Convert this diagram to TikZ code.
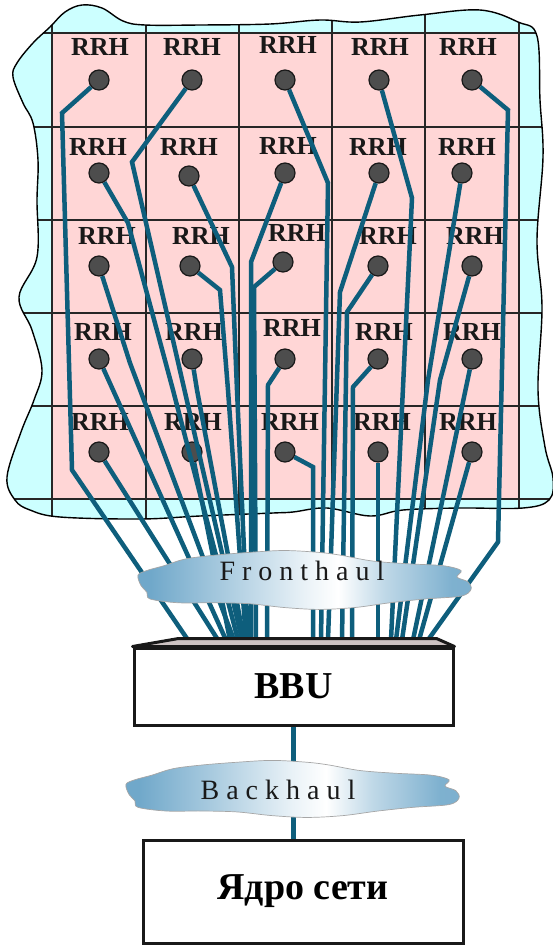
\documentclass[tikz,border=0pt]{standalone}
\usepackage{fontspec}
\setmainfont{Liberation Serif}
\newfontfamily\spacedfont[LetterSpace=25]{Liberation Serif}
\usetikzlibrary{calc}

\definecolor{fibreblue}{RGB}{14,94,124}
\definecolor{cellpink}{RGB}{255,214,214}
\definecolor{seacyan}{RGB}{204,255,255}
\definecolor{dotgray}{RGB}{77,77,77}
\definecolor{cloudblue}{RGB}{112,168,202}
\definecolor{lidgray}{RGB}{205,195,195}
% the path's box takes the 25bp..75bp part of the sweep
\pgfdeclarehorizontalshading{cloudsweep}{100bp}{color(0bp)=(cloudblue); color(27bp)=(cloudblue);
  color(38bp)=(white!40!cloudblue); color(50bp)=(white!85!cloudblue); color(55bp)=(white);
  color(62bp)=(white!55!cloudblue); color(72bp)=(white!10!cloudblue); color(100bp)=(cloudblue)}

\tikzset{
  rrhtext/.style={font=\fontsize{26}{26}\selectfont\bfseries, text=black!90, inner sep=0pt},
  rrhdot/.style={circle, draw=black!90, line width=1.2pt, fill=dotgray, minimum size=20pt, inner sep=0pt},
  fibre/.style={draw=fibreblue, line width=4.5pt},
  gridline/.style={draw=black!85, line width=1.6pt},
  cloudtext/.style={inner sep=0pt, font=\spacedfont\fontsize{28}{28}\selectfont, text=black!90},
  unitbox/.style={draw=black!90, line width=3pt, fill=white, inner sep=0pt, font=\fontsize{38}{38}\selectfont\bfseries},
  % flat cloud, about 335 x 62
  cloudbank/.pic={
    \shade[shading=cloudsweep, draw=gray!70, line width=0.7pt] plot [smooth cycle, tension=0.55] coordinates {
      (-166,-4)(-157,-9)(-140,-14)(-119,-21)(-90,-25)(-55,-28)(-20,-30)(15,-28)(37,-25)(68,-19)
      (104,-16)(139,-14)(157,-9)(153,-2)(164,3)(167,11)(157,18)(121,21)(86,25)(51,30)(15,32)
      (-20,30)(-55,26)(-90,25)(-126,25)(-154,21)(-157,14)(-163,7)
    };
  },
}

\begin{document}
\begin{tikzpicture}[x=1pt,y=-1pt]
\useasboundingbox (0,0) rectangle (553,946);
% =============================================
% - area with the cell grid.
\path[save path=\seapath] plot [smooth cycle, tension=0.6] coordinates {
(50,27)(65,12)(82,5)(102,8)(123,21)(145,25)(200,25)(270,24)(320,20)(360,22)(420,15)(480,10)(518,22)(537,36)
(540,100)(543,157)(537,240)(542,307)(538,390)(545,447)(553,478)(549,500)(523,508)(460,508)(403,510)(370,516)
(327,508)(293,512)(273,513)(200,516)(140,519)(60,517)(30,510)(15,500)(7,477)(21,432)(34,400)(42,370)
(32,330)(19,297)(37,257)(37,200)(38,160)(33,123)(23,103)(13,77)(17,63)(33,43)
};
\fill[seacyan, use path=\seapath];
\fill[cellpink] (52,33) rectangle (519,499);
\begin{scope}
\clip[use path=\seapath];
\draw[gridline] (52,0) -- (52,530) (146,0) -- (146,530) (239,0) -- (239,530)
                (332,0) -- (332,530) (425,0) -- (425,530) (519,0) -- (519,530);
\draw[gridline] (0,33) -- (553,33) (0,127) -- (553,127) (0,220) -- (553,220)
                (0,313) -- (553,313) (0,406) -- (553,406) (0,499) -- (553,499);
\end{scope}
\draw[black, line width=1.4pt, use path=\seapath];
%
% - RRH labels and antennas, row by row.
\node[rrhtext] (l11) at (100,47) {RRH};  \node[rrhdot] (d11) at (99,80) {};
\node[rrhtext] (l12) at (192,47) {RRH};  \node[rrhdot] (d12) at (192,80) {};
\node[rrhtext] (l13) at (288,45) {RRH};  \node[rrhdot] (d13) at (285,80) {};
\node[rrhtext] (l14) at (380,47) {RRH};  \node[rrhdot] (d14) at (379,80) {};
\node[rrhtext] (l15) at (468,47) {RRH};  \node[rrhdot] (d15) at (472,80) {};
\node[rrhtext] (l21) at (98,147) {RRH};  \node[rrhdot] (d21) at (99,173) {};
\node[rrhtext] (l22) at (189,147) {RRH}; \node[rrhdot] (d22) at (189,176) {};
\node[rrhtext] (l23) at (288,146) {RRH}; \node[rrhdot] (d23) at (285,173) {};
\node[rrhtext] (l24) at (378,147) {RRH}; \node[rrhdot] (d24) at (379,173) {};
\node[rrhtext] (l25) at (467,147) {RRH}; \node[rrhdot] (d25) at (462,173) {};
\node[rrhtext] (l31) at (107,236) {RRH}; \node[rrhdot] (d31) at (99,266) {};
\node[rrhtext] (l32) at (201,236) {RRH}; \node[rrhdot] (d32) at (190,266) {};
\node[rrhtext] (l33) at (297,233) {RRH}; \node[rrhdot] (d33) at (283,262) {};
\node[rrhtext] (l34) at (388,236) {RRH}; \node[rrhdot] (d34) at (378,266) {};
\node[rrhtext] (l35) at (475,236) {RRH}; \node[rrhdot] (d35) at (472,266) {};
\node[rrhtext] (l41) at (103,332) {RRH}; \node[rrhdot] (d41) at (99,359) {};
\node[rrhtext] (l42) at (194,332) {RRH}; \node[rrhdot] (d42) at (192,359) {};
\node[rrhtext] (l43) at (292,328) {RRH}; \node[rrhdot] (d43) at (285,359) {};
\node[rrhtext] (l44) at (384,332) {RRH}; \node[rrhdot] (d44) at (378,359) {};
\node[rrhtext] (l45) at (472,332) {RRH}; \node[rrhdot] (d45) at (472,359) {};
\node[rrhtext] (l51) at (100,422) {RRH}; \node[rrhdot] (d51) at (99,452) {};
\node[rrhtext] (l52) at (193,422) {RRH}; \node[rrhdot] (d52) at (192,452) {};
\node[rrhtext] (l53) at (290,422) {RRH}; \node[rrhdot] (d53) at (285,452) {};
\node[rrhtext] (l54) at (382,422) {RRH}; \node[rrhdot] (d54) at (378,452) {};
\node[rrhtext] (l55) at (468,422) {RRH}; \node[rrhdot] (d55) at (472,452) {};
%
% - fibre ends on the BBU lid.
\coordinate (e11) at (188,640); \coordinate (e51) at (218,640); \coordinate (e41) at (226,640);
\coordinate (e52) at (230,640); \coordinate (e31) at (234,640); \coordinate (e21) at (238,640);
\coordinate (e12) at (242,640); \coordinate (e42) at (244,640); \coordinate (e32) at (246,640);
\coordinate (e22) at (248,640); \coordinate (e23) at (251,640); \coordinate (e33) at (256,640);
\coordinate (e43) at (267,640); \coordinate (e53) at (313,640); \coordinate (e13) at (321,640);
\coordinate (e24) at (328,640); \coordinate (e34) at (342,640); \coordinate (e44) at (352,640);
\coordinate (e54) at (378,640); \coordinate (e14) at (391,640); \coordinate (e25) at (396,640);
\coordinate (e35) at (402,640); \coordinate (e45) at (413,640); \coordinate (e55) at (419,640);
\coordinate (e15) at (428,640);
%
% - fronthaul fibres.
\draw[fibre] (d11) -- (62,113) -- (72,470) -- (e11);
\draw[fibre] (d12) -- (132,162) -- (e12);
\draw[fibre] (d13) -- (328,183) -- (e13);
\draw[fibre] (d14) -- (412,198) -- (e14);
\draw[fibre] (d15) -- (508,110) -- (498,542) -- (e15);
\draw[fibre] (d21) -- (128,223) -- (173,390) -- (e21);
\draw[fibre] (d22) -- (232,267) -- (237,390) -- (e22);
\draw[fibre] (d23) -- (251,262) -- (e23);
\draw[fibre] (d24) -- (340,292) -- (e24);
\draw[fibre] (d25) -- (428,380) -- (e25);
\draw[fibre] (d31) -- (130,363) -- (e31);
\draw[fibre] (d32) -- (220,290) -- (228,390) -- (e32);
\draw[fibre] (d33) -- (254,287) -- (e33);
\draw[fibre] (d34) -- (347,312) -- (e34);
\draw[fibre] (d35) -- (440,380) -- (e35);
\draw[fibre] (d41) -- (e41);
\draw[fibre] (d42) -- (197,390) -- (e42);
\draw[fibre] (d43) -- (268,385) -- (e43);
\draw[fibre] (d44) -- (353,387) -- (e44);
\draw[fibre] (d45) -- (e45);
\draw[fibre] (d51) -- (e51);
\draw[fibre] (d52) -- (e52);
\draw[fibre] (d53) -- (313,467) -- (e53);
\draw[fibre] (d54) -- (e54);
\draw[fibre] (d55) -- (e55);
%
% Fronthaul cloud
\pic[yscale=0.95] (frontcloud) at (304,579) {cloudbank};
\node[cloudtext] (front) at (302,571) {Fronthaul};
% =============================================
% - BBU with its lid.
\node[unitbox, minimum width=319pt, minimum height=77pt] (bbu) at (293.5,686.5) {BBU};
\filldraw[fill=lidgray, draw=black!90, line width=3pt, line join=round]
  (bbu.north west) -- ($(bbu.north west)+(46,-8)$) -- ($(bbu.north east)+(-18,-8)$) -- (bbu.north east) -- cycle;
%
% - core network and backhaul.
\node[unitbox, minimum width=320pt, minimum height=103pt] (core) at (303,891.5) {Ядро сети};
\draw[fibre] (bbu.south) -- (bbu.south |- core.north);
\pic[yscale=0.92] (backcloud) at (292,788) {cloudbank};
\node[cloudtext] (back) at (278,790) {Backhaul};
% =============================================
\end{tikzpicture}
\end{document}
